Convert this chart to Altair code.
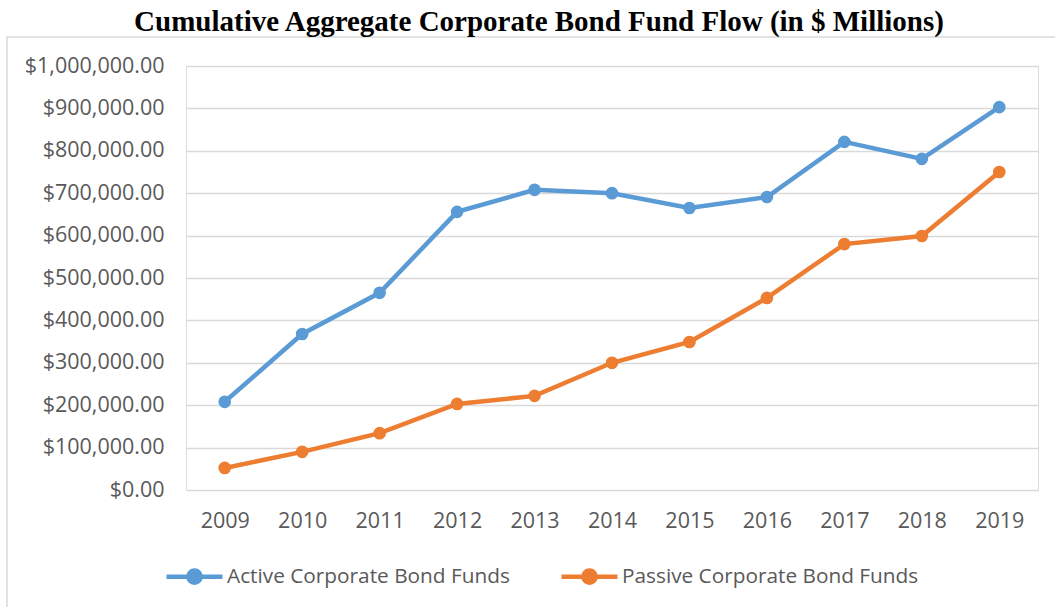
import altair as alt
import pandas as pd

years = ["2009", "2010", "2011", "2012", "2013", "2014", "2015", "2016", "2017", "2018", "2019"]
active = [208000, 368000, 465000, 656000, 708000, 700000, 665000, 691000, 821000, 781000, 903000]
passive = [52000, 90000, 134000, 203000, 222000, 300000, 349000, 453000, 580000, 599000, 750000]
series = ["Active Corporate Bond Funds", "Passive Corporate Bond Funds"]
colors = ["#5B9BD5", "#ED7D31"]
title_text = "Cumulative Aggregate Corporate Bond Fund Flow (in $ Millions)"

rows = []
for y, a, p in zip(years, active, passive):
    rows.append({"Year": y, "Series": series[0], "Value": a})
    rows.append({"Year": y, "Series": series[1], "Value": p})
df = pd.DataFrame(rows)

FONT = "Open Sans"
GRAY = "#595959"

W, H = 852, 424
PL, PT = 186, 66

legend_symbol = "M-1,0L1,0M-0.22,0A0.22,0.22 0 1,0 0.22,0A0.22,0.22 0 1,0 -0.22,0"

base = alt.Chart(df).encode(
    x=alt.X("Year:O", sort=years, scale=alt.Scale(type="point", padding=0.5),
            axis=alt.Axis(title=None, domain=False, ticks=False, labelAngle=0,
                          labelFont=FONT, labelFontSize=21.5, labelColor=GRAY,
                          labelPadding=20, grid=False)),
    y=alt.Y("Value:Q", scale=alt.Scale(domain=[0, 1000000]),
            axis=alt.Axis(title=None, domain=False, ticks=False,
                          values=list(range(0, 1000001, 100000)),
                          labelOverlap=False,
                          format="$,.2f", labelFont=FONT, labelFontSize=21.5,
                          labelColor=GRAY, labelPadding=22,
                          gridColor="#d9d9d9", gridWidth=1.5)),
    color=alt.Color("Series:N", scale=alt.Scale(domain=series, range=colors),
                    legend=alt.Legend(title=None, orient="none", direction="horizontal",
                                      legendX=-22, legendY=480,
                                      symbolType=legend_symbol, symbolSize=3136,
                                      symbolStrokeWidth=4.5,
                                      labelFont=FONT, labelFontSize=20.8, labelColor=GRAY,
                                      labelOffset=2, columnPadding=42,
                                      labelLimit=400)),
)

lines = base.mark_line(strokeWidth=4.5)
points = base.mark_point(filled=True, size=160, opacity=1, shape="circle")

frame = alt.Chart(pd.DataFrame({"a": [0]})).mark_rect(
    fill=None, stroke="#d9d9d9", strokeWidth=1.5
).encode(
    x=alt.value(7 - PL), x2=alt.value(1070 - PL),
    y=alt.value(37 - PT), y2=alt.value(620 - PT)
)

chart = alt.layer(frame, lines, points).properties(
    width=W, height=H,
    title=alt.Title(title_text, font="Liberation Serif", fontSize=29, fontWeight="bold",
                    color="#000000", anchor="middle", frame="group", dx=-73, offset=0,
                    dy=1),
    autosize=alt.AutoSizeParams(type="none"),
    padding={"left": PL, "top": PT, "right": 1055 - PL - W, "bottom": 607 - PT - H},
).configure_view(stroke=None).configure(background="white")

chart.save("out.html", embed_options={"renderer": "svg", "actions": False})
